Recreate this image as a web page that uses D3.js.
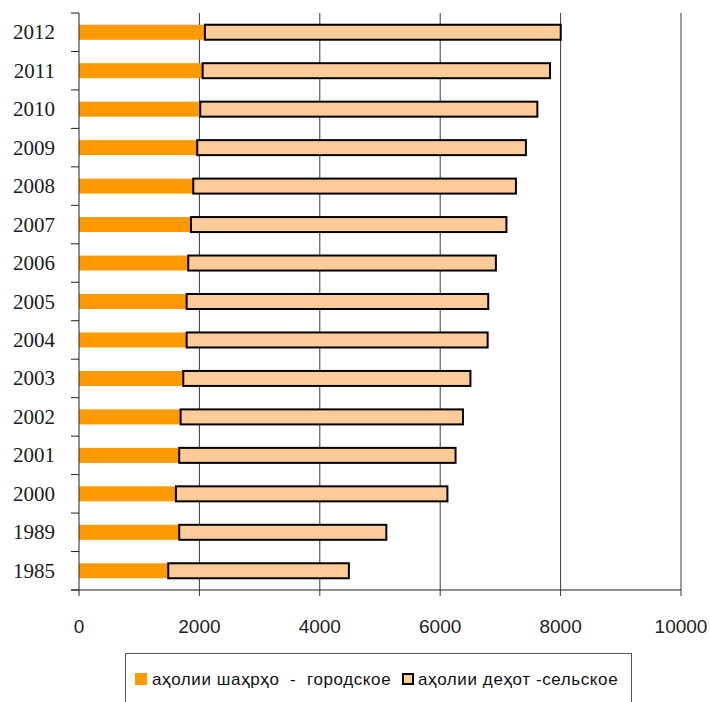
<!DOCTYPE html>
<html>
<head>
<meta charset="utf-8">
<script src="https://cdn.jsdelivr.net/npm/d3@7"></script>
<style>
  body { margin: 0; background: #fff; }
  svg { display: block; }
</style>
</head>
<body>
<svg width="710" height="702"></svg>
<script>
// Data
const years = ["1985", "1989", "2000", "2001", "2002", "2003", "2004", "2005",
  "2006", "2007", "2008", "2009", "2010", "2011", "2012"];
const urban = [1483, 1665, 1610, 1665, 1688, 1732, 1788, 1788, 1815, 1860, 1898, 1964, 2014, 2054, 2092];
const rural = [3000, 3440, 4510, 4590, 4690, 4770, 5000, 5010, 5110, 5240, 5360, 5460, 5600, 5770, 5910];
const xTicks = [0, 2000, 4000, 6000, 8000, 10000];
const seriesNames = ["аҳолии шаҳрҳо  -  городское", "аҳолии деҳот -сельское"];

const svg = d3.select("svg");
const plotL = 79, plotR = 681, plotT = 13, plotB = 590;

const x = d3.scaleLinear().domain([0, 10000]).range([plotL, plotR]);
const y = d3.scaleBand()
  .domain(years.slice().reverse())
  .range([plotT, plotB])
  .paddingInner(0.61)
  .paddingOuter(0.305);
const band = (plotB - plotT) / years.length;

// vertical gridlines (also the x ticks)
svg.append("g")
  .selectAll("line")
  .data(xTicks.slice(1))
  .join("line")
  .attr("x1", d => x(d)).attr("x2", d => x(d))
  .attr("y1", plotT).attr("y2", plotB + 6)
  .attr("stroke", "#3a3a3a")
  .attr("stroke-width", 1);

// bars
const rows = years.map((yr, i) => ({ year: yr, urban: urban[i], rural: rural[i] }));
const g = svg.append("g");
g.selectAll("rect.urban")
  .data(rows)
  .join("rect")
  .attr("class", "urban")
  .attr("x", x(0))
  .attr("y", d => y(d.year))
  .attr("width", d => x(d.urban) - x(0))
  .attr("height", y.bandwidth())
  .attr("fill", "#FF9900");
g.selectAll("rect.rural")
  .data(rows)
  .join("rect")
  .attr("class", "rural")
  .attr("x", d => x(d.urban))
  .attr("y", d => y(d.year))
  .attr("width", d => x(d.urban + d.rural) - x(d.urban))
  .attr("height", y.bandwidth())
  .attr("fill", "#FFCC99")
  .attr("stroke", "#000")
  .attr("stroke-width", 2);

// left axis line + category ticks
svg.append("line")
  .attr("x1", plotL).attr("x2", plotL)
  .attr("y1", plotT).attr("y2", plotB)
  .attr("stroke", "#222");
svg.append("g")
  .selectAll("line")
  .data(d3.range(years.length + 1))
  .join("line")
  .attr("x1", plotL - 8).attr("x2", plotL)
  .attr("y1", i => plotT + i * band).attr("y2", i => plotT + i * band)
  .attr("stroke", "#222");

// bottom axis line + tick at zero
svg.append("line")
  .attr("x1", plotL - 8).attr("x2", plotR)
  .attr("y1", plotB).attr("y2", plotB)
  .attr("stroke", "#222");
svg.append("line")
  .attr("x1", plotL).attr("x2", plotL)
  .attr("y1", plotB).attr("y2", plotB + 6)
  .attr("stroke", "#222");

// year labels
svg.append("g")
  .selectAll("text")
  .data(years)
  .join("text")
  .attr("x", 55)
  .attr("y", d => y(d) + y.bandwidth() / 2 + 7)
  .attr("text-anchor", "end")
  .attr("font-family", "Liberation Serif")
  .attr("font-size", 21)
  .attr("fill", "#1a1a1a")
  .text(d => d);

// x tick labels
svg.append("g")
  .selectAll("text")
  .data(xTicks)
  .join("text")
  .attr("x", d => x(d))
  .attr("y", 633)
  .attr("text-anchor", "middle")
  .attr("font-family", "Liberation Sans")
  .attr("font-size", 19)
  .attr("fill", "#222")
  .text(d => d);

// legend
const legend = svg.append("g");
legend.append("rect")
  .attr("x", 125.5).attr("y", 653.5)
  .attr("width", 506).attr("height", 60)
  .attr("fill", "#fff")
  .attr("stroke", "#555");
legend.append("rect")
  .attr("x", 135).attr("y", 673)
  .attr("width", 12).attr("height", 12)
  .attr("fill", "#FF9900");
legend.append("text")
  .attr("x", 152).attr("y", 685)
  .attr("font-family", "Liberation Sans")
  .attr("font-size", 17)
  .attr("letter-spacing", 0.6)
  .attr("fill", "#111")
  .style("white-space", "pre")
  .text(seriesNames[0]);
legend.append("rect")
  .attr("x", 403).attr("y", 674)
  .attr("width", 10).attr("height", 10)
  .attr("fill", "#FFCC99")
  .attr("stroke", "#000")
  .attr("stroke-width", 2);
legend.append("text")
  .attr("x", 418).attr("y", 685)
  .attr("font-family", "Liberation Sans")
  .attr("font-size", 17)
  .attr("letter-spacing", 0.6)
  .attr("fill", "#111")
  .text(seriesNames[1]);
</script>
</body>
</html>
